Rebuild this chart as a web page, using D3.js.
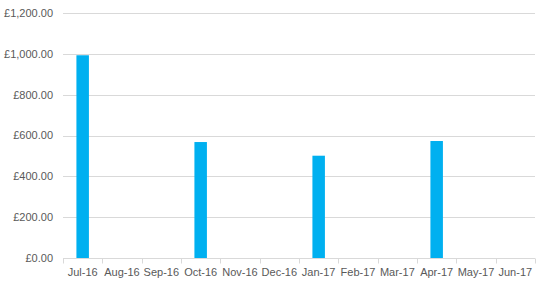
<!DOCTYPE html>
<html><head><meta charset="utf-8">
<script src="https://cdn.jsdelivr.net/npm/d3@7"></script>
<style>body{margin:0;background:#fff}svg{display:block}</style>
</head><body>
<svg id="c" width="547" height="284"></svg>
<script>
const categories = ["Jul-16","Aug-16","Sep-16","Oct-16","Nov-16","Dec-16","Jan-17","Feb-17","Mar-17","Apr-17","May-17","Jun-17"];
const values = [993, 0, 0, 568, 0, 0, 501, 0, 0, 573, 0, 0];
const yTicks = [0, 200, 400, 600, 800, 1000, 1200];

const svg = d3.select("#c");
const m = {left: 63, right: 12, top: 13, bottom: 26};
const W = 547, H = 284;
const x = d3.scaleBand().domain(categories).range([m.left, W - m.right]).paddingInner(0).paddingOuter(0);
const y = d3.scaleLinear().domain([0, 1200]).range([H - m.bottom, m.top]);
const fmt = v => "£" + d3.format(",.2f")(v);
const font = "Liberation Sans, Arial, sans-serif";

// gridlines
svg.append("g").selectAll("line").data(yTicks.filter(d => d > 0)).join("line")
  .attr("x1", m.left).attr("x2", W - m.right)
  .attr("y1", d => Math.round(y(d)) + 0.5).attr("y2", d => Math.round(y(d)) + 0.5)
  .attr("stroke", "#d9d9d9").attr("stroke-width", 1);

// y labels
svg.append("g").selectAll("text").data(yTicks).join("text")
  .attr("x", 53).attr("y", d => y(d)).attr("dy", "0.35em")
  .attr("text-anchor", "end").attr("font-family", font).attr("font-size", 11)
  .attr("fill", "#595959").text(fmt);

// bars
const bw = 12.5;
svg.append("g").selectAll("rect").data(categories.map((c, i) => ({c, v: values[i]})).filter(d => d.v > 0)).join("rect")
  .attr("x", d => x(d.c) + x.bandwidth() / 2 - bw / 2)
  .attr("width", bw)
  .attr("y", d => y(d.v))
  .attr("height", d => y(0) - y(d.v))
  .attr("fill", "#00b0f0");

// x axis
const ax = svg.append("g").attr("transform", `translate(0,${Math.round(y(0)) + 0.5})`);
ax.append("line").attr("x1", m.left).attr("x2", W - m.right).attr("stroke", "#d9d9d9");
const bounds = categories.map(c => x(c)).concat([x.range()[1]]);
ax.selectAll("line.t").data(bounds).join("line").attr("class", "t")
  .attr("x1", d => Math.round(d) + 0.5).attr("x2", d => Math.round(d) + 0.5)
  .attr("y1", 0).attr("y2", 5).attr("stroke", "#d9d9d9");
ax.selectAll("text").data(categories).join("text")
  .attr("x", d => x(d) + x.bandwidth() / 2).attr("y", 17)
  .attr("text-anchor", "middle").attr("font-family", font).attr("font-size", 11)
  .attr("fill", "#595959").text(d => d);
</script>
</body></html>
